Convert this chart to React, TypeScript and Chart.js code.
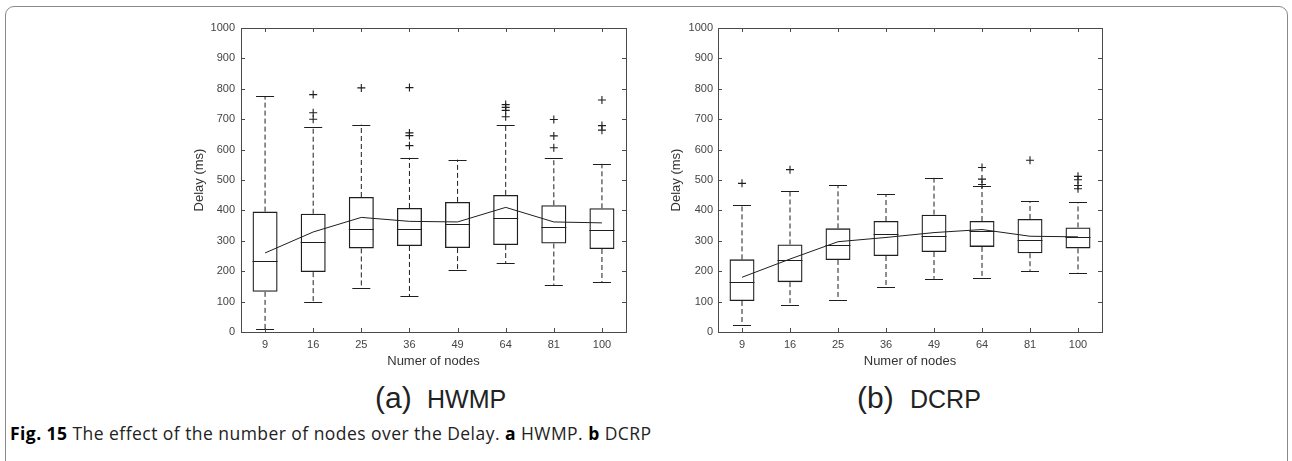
import React, { useEffect, useRef } from 'react';
import { Chart, registerables } from 'chart.js';

Chart.register(...registerables);

const categories = ['9', '16', '25', '36', '49', '64', '81', '100'];
const yMin = 0;
const yMax = 1000;
const yStep = 100;

// (a) HWMP
const hwmpLower = [10, 100, 146, 118, 204, 226, 155, 164];
const hwmpQ1 = [132, 197, 275, 283, 276, 286, 291, 273];
const hwmpMedian = [233, 296, 340, 340, 356, 375, 345, 336];
const hwmpQ3 = [396, 389, 444, 408, 428, 451, 417, 407];
const hwmpUpper = [776, 674, 682, 573, 567, 680, 573, 553];
const hwmpMean = [260, 329, 377, 364, 362, 410, 362, 359];
const hwmpOutliers = [[], [781, 721, 700], [803], [804, 655, 646, 613], [], [748, 739, 729, 708], [699, 645, 606], [763, 679, 664]];

// (b) DCRP
const dcrpLower = [23, 89, 106, 148, 175, 178, 201, 195];
const dcrpQ1 = [102, 164, 237, 250, 263, 280, 259, 275];
const dcrpMedian = [163, 237, 285, 321, 316, 333, 303, 311];
const dcrpQ3 = [239, 288, 341, 365, 386, 365, 372, 344];
const dcrpUpper = [419, 463, 482, 453, 507, 481, 430, 427];
const dcrpMean = [180, 240, 297, 311, 327, 337, 315, 313];
const dcrpOutliers = [[489], [534], [], [], [], [541, 503, 485], [565], [512, 501, 482, 471]];

const FONT = "'Liberation Sans', Arial, Helvetica, sans-serif";
const INK = '#1e1e1e';

type Stats = {
  lower: number[]; q1: number[]; median: number[]; q3: number[]; upper: number[]; mean: number[]; outliers: number[][];
};

type Geo = { left: number; top: number; width: number; height: number; yAxisWidth: number; padRight: number; tickPad: number; yTitlePad: number };

function BoxChart({ stats, geo }: { stats: Stats; geo: Geo }) {
  const ref = useRef<HTMLCanvasElement | null>(null);
  useEffect(() => {
    const canvas = ref.current;
    if (!canvas) return;
    const outlierPts: { x: string; y: number }[] = [];
    stats.outliers.forEach((arr, i) => arr.forEach((v) => outlierPts.push({ x: categories[i], y: v })));

    const extras = {
      id: 'boxExtras',
      afterDatasetsDraw(chart: any) {
        const { ctx, chartArea, scales } = chart;
        const xs = scales.x;
        const ys = scales.y;
        const meta = chart.getDatasetMeta(0);
        ctx.save();
        ctx.strokeStyle = INK;
        ctx.lineWidth = 1;
        categories.forEach((_, i) => {
          const cx = xs.getPixelForValue(i);
          const bw = meta.data[i] ? meta.data[i].width : 24;
          const cap = bw * 0.36;
          ctx.setLineDash([5, 3]);
          ctx.beginPath();
          ctx.moveTo(cx, ys.getPixelForValue(stats.q3[i]));
          ctx.lineTo(cx, ys.getPixelForValue(stats.upper[i]));
          ctx.moveTo(cx, ys.getPixelForValue(stats.q1[i]));
          ctx.lineTo(cx, ys.getPixelForValue(stats.lower[i]));
          ctx.stroke();
          ctx.setLineDash([]);
          ctx.lineWidth = 1.2;
          ctx.beginPath();
          const yu = Math.round(ys.getPixelForValue(stats.upper[i])) + 0.5;
          const yl = Math.round(ys.getPixelForValue(stats.lower[i])) + 0.5;
          ctx.moveTo(cx - cap, yu); ctx.lineTo(cx + cap, yu);
          ctx.moveTo(cx - cap, yl); ctx.lineTo(cx + cap, yl);
          const ym = Math.round(ys.getPixelForValue(stats.median[i])) + 0.5;
          ctx.moveTo(cx - bw / 2, ym); ctx.lineTo(cx + bw / 2, ym);
          ctx.stroke();
          ctx.lineWidth = 1;
        });
        const { left, right, top, bottom } = chartArea;
        ctx.strokeStyle = '#4a4a4a';
        ctx.lineWidth = 1;
        ctx.strokeRect(Math.round(left) + 0.5, Math.round(top) + 0.5, Math.round(right - left), Math.round(bottom - top));
        const tl = 4;
        ctx.beginPath();
        for (let v = yMin; v <= yMax; v += yStep) {
          const py = Math.round(ys.getPixelForValue(v)) + 0.5;
          ctx.moveTo(left, py); ctx.lineTo(left + tl, py);
          ctx.moveTo(right, py); ctx.lineTo(right - tl, py);
        }
        categories.forEach((_, i) => {
          const px = Math.round(xs.getPixelForValue(i)) + 0.5;
          ctx.moveTo(px, bottom); ctx.lineTo(px, bottom - tl);
          ctx.moveTo(px, top); ctx.lineTo(px, top + tl);
        });
        ctx.stroke();
        ctx.restore();
      },
    };

    const chart = new Chart(canvas, {
      type: 'bar',
      data: {
        labels: categories,
        datasets: [
          {
            type: 'bar',
            data: stats.q1.map((v, i) => [v, stats.q3[i]]) as any,
            backgroundColor: 'rgba(0,0,0,0)',
            borderColor: INK,
            borderWidth: 1.3,
            borderSkipped: false,
            categoryPercentage: 1,
            barPercentage: 0.52,
            order: 3,
          } as any,
          {
            type: 'line',
            data: stats.mean,
            borderColor: INK,
            borderWidth: 1,
            pointRadius: 0,
            fill: false,
            tension: 0,
            order: 1,
          } as any,
          {
            type: 'line',
            data: outlierPts as any,
            showLine: false,
            pointStyle: 'cross',
            pointRadius: 4,
            pointBorderWidth: 1.1,
            borderColor: INK,
            backgroundColor: INK,
            order: 2,
          } as any,
        ],
      },
      options: {
        responsive: false,
        maintainAspectRatio: false,
        animation: false,
        devicePixelRatio: 1,
        layout: { padding: { top: 28, right: geo.padRight, left: 0, bottom: 0 } },
        plugins: { legend: { display: false }, tooltip: { enabled: false } },
        scales: {
          x: {
            type: 'category',
            offset: true,
            grid: { display: false, drawTicks: false },
            border: { display: false },
            ticks: { color: '#444', font: { family: FONT, size: 11 }, padding: 6, maxRotation: 0, autoSkip: false },
            title: { display: true, text: 'Numer of nodes', color: '#333', font: { family: FONT, size: 13 }, padding: { top: 0, bottom: 11 } },
            afterFit: (s: any) => { s.height = 48; },
          },
          y: {
            min: yMin,
            max: yMax,
            grid: { display: false, drawTicks: false },
            border: { display: false },
            ticks: { stepSize: yStep, color: '#444', font: { family: FONT, size: 11 }, padding: geo.tickPad, callback: (v: any) => String(v) },
            title: { display: true, text: 'Delay (ms)', color: '#333', font: { family: FONT, size: 13 }, padding: { top: geo.yTitlePad, bottom: 0 } },
            afterFit: (s: any) => { s.width = geo.yAxisWidth; },
          },
        },
      },
      plugins: [extras],
    });
    return () => chart.destroy();
  }, []);
  return (
    <canvas
      ref={ref}
      width={geo.width}
      height={geo.height}
      style={{ position: 'absolute', left: geo.left, top: geo.top, width: geo.width, height: geo.height }}
    />
  );
}

const hwmpStats: Stats = { lower: hwmpLower, q1: hwmpQ1, median: hwmpMedian, q3: hwmpQ3, upper: hwmpUpper, mean: hwmpMean, outliers: hwmpOutliers };
const dcrpStats: Stats = { lower: dcrpLower, q1: dcrpQ1, median: dcrpMedian, q3: dcrpQ3, upper: dcrpUpper, mean: dcrpMean, outliers: dcrpOutliers };

const subStyle = (left: number, top: number, size: number): React.CSSProperties => ({
  position: 'absolute', left, top, fontFamily: FONT, fontSize: size, lineHeight: 1, color: '#222', whiteSpace: 'nowrap',
});

export default function App() {
  return (
    <div style={{ position: 'absolute', left: 0, top: 0, width: 1292, height: 461, overflow: 'hidden', background: '#fff' }}>
      <div style={{ position: 'absolute', left: 5, top: 6, width: 1283, height: 470, border: '1.5px solid #8a8a8a', borderRadius: 9, boxSizing: 'border-box' }} />
      <BoxChart stats={hwmpStats} geo={{ left: 180, top: 0, width: 460, height: 380, yAxisWidth: 61, padRight: 14, tickPad: 6, yTitlePad: 12 }} />
      <BoxChart stats={dcrpStats} geo={{ left: 660, top: 0, width: 460, height: 380, yAxisWidth: 58, padRight: 18, tickPad: 5, yTitlePad: 9 }} />
      <div style={subStyle(375, 383, 30)}>(a)</div>
      <div style={subStyle(427, 387, 25)}>HWMP</div>
      <div style={subStyle(857, 383, 30)}>(b)</div>
      <div style={subStyle(910, 387, 25)}>DCRP</div>
      <div style={{ position: 'absolute', left: 10, top: 425, fontFamily: "'Open Sans', 'Noto Sans', sans-serif", fontSize: 17.5, lineHeight: 1, color: '#222', whiteSpace: 'nowrap', letterSpacing: 0.45 }}>
        <b style={{ color: '#000' }}>Fig. 15</b> The effect of the number of nodes over the Delay. <b style={{ color: '#000' }}>a</b> HWMP. <b style={{ color: '#000' }}>b</b> DCRP
      </div>
    </div>
  );
}
